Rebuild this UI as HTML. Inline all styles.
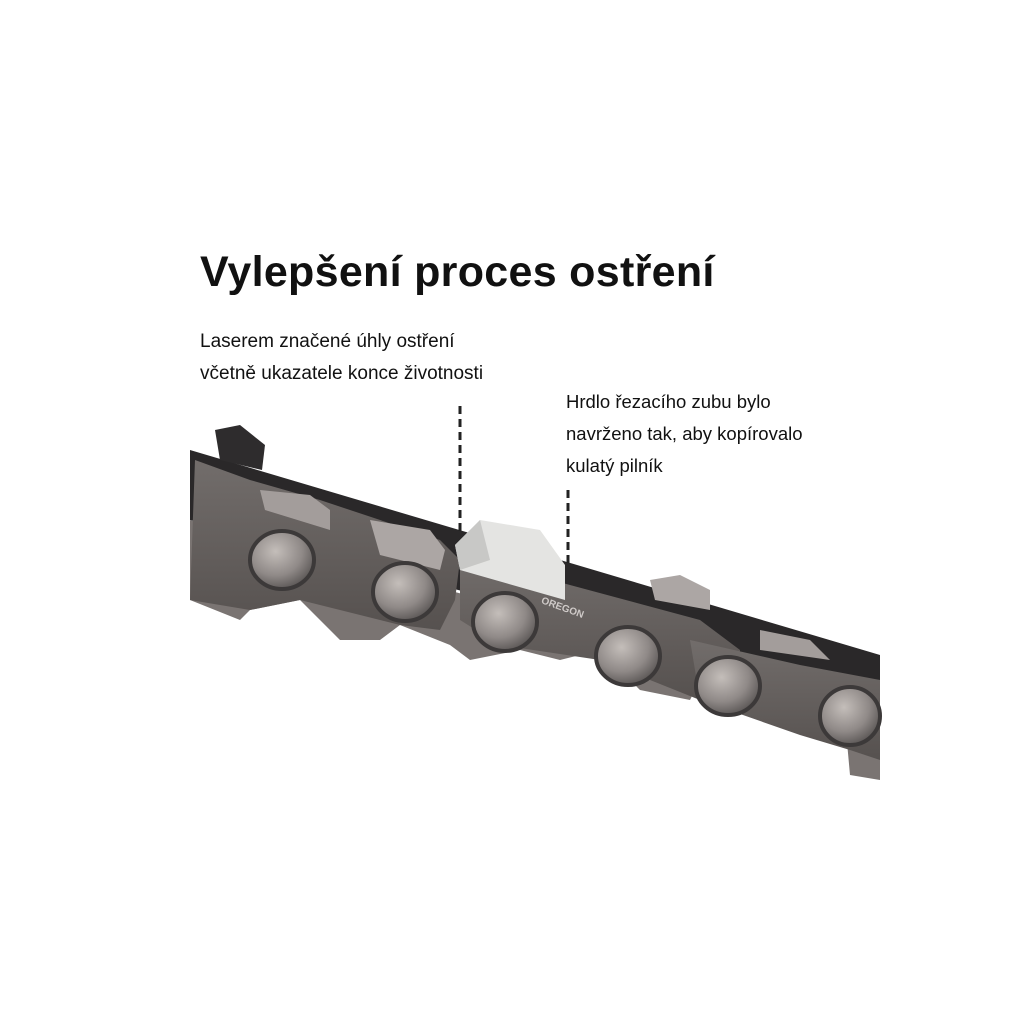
<!DOCTYPE html>
<html><head><meta charset="utf-8"><style>
body{margin:0;width:1024px;height:1024px;background:#fff;overflow:hidden;position:relative;font-family:"Liberation Sans",sans-serif;}
.t{position:absolute;color:#111;}
</style></head><body>
<svg width="1024" height="1024" style="position:absolute;left:0;top:0">
<defs>
<radialGradient id="rv" cx="0.4" cy="0.35" r="0.7"><stop offset="0" stop-color="#c4beba"/><stop offset="0.6" stop-color="#8f8987"/><stop offset="1" stop-color="#555150"/></radialGradient>
<linearGradient id="bd" x1="0" y1="0" x2="0" y2="1"><stop offset="0" stop-color="#726d6b"/><stop offset="1" stop-color="#56514f"/></linearGradient>
</defs>
<polygon points="190,450 880,655 880,700 190,520" fill="#2a2829"/>
<polygon points="190,520 250,540 880,700 880,780 850,775 845,720 800,700 760,710 700,680 690,700 640,690 600,650 560,660 520,650 470,660 450,645 400,625 380,640 340,640 300,600 250,610 240,620 190,600" fill="#7a7472"/>
<polygon points="195,460 250,480 320,500 440,540 460,560 455,600 440,630 400,625 300,600 250,610 190,600" fill="url(#bd)"/>
<polygon points="460,555 570,585 700,620 740,650 740,700 700,700 600,660 500,645 460,620" fill="url(#bd)"/>
<polygon points="690,640 800,665 880,680 880,760 850,750 800,735 700,700" fill="url(#bd)"/>
<polygon points="215,430 240,425 265,445 262,470 220,460" fill="#2e2c2d"/>
<polygon points="260,490 310,495 330,510 330,530 265,510" fill="#a39d9b"/>
<polygon points="370,520 430,530 445,550 440,570 380,555" fill="#aca6a4"/>
<polygon points="650,580 680,575 710,590 710,610 655,600" fill="#aca6a4"/>
<polygon points="760,630 810,640 830,660 760,650" fill="#a39d9b"/>
<polygon points="455,545 480,520 540,530 565,565 565,600 460,570" fill="#e4e4e2"/>
<polygon points="455,545 480,520 490,560 460,570" fill="#c8c8c6"/>
<g fill="url(#rv)" stroke="#3c3939" stroke-width="4">
<ellipse cx="282" cy="560" rx="32" ry="29"/>
<ellipse cx="405" cy="592" rx="32" ry="29"/>
<ellipse cx="505" cy="622" rx="32" ry="29"/>
<ellipse cx="628" cy="656" rx="32" ry="29"/>
<ellipse cx="728" cy="686" rx="32" ry="29"/>
<ellipse cx="850" cy="716" rx="30" ry="29"/>
</g>
<text x="538" y="612" font-size="10" font-weight="bold" fill="#cfcac8" transform="rotate(20 565 615)">OREGON</text>
<line x1="460" y1="406" x2="460" y2="532" stroke="#222" stroke-width="3" stroke-dasharray="8,5"/>
<line x1="568" y1="490" x2="568" y2="565" stroke="#222" stroke-width="3" stroke-dasharray="8,5"/>
</svg>
<div class="t" style="left:200px;top:248px;font-size:43px;font-weight:bold;letter-spacing:0.3px">Vylepšení proces ostření</div>
<div class="t" style="left:200px;top:326px;font-size:19px;line-height:32px">Laserem značené úhly ostření<br>včetně ukazatele konce životnosti</div>
<div class="t" style="left:566px;top:386px;font-size:18.5px;line-height:32px">Hrdlo řezacího zubu bylo<br>navrženo tak, aby kopírovalo<br>kulatý pilník</div>
</body></html>
